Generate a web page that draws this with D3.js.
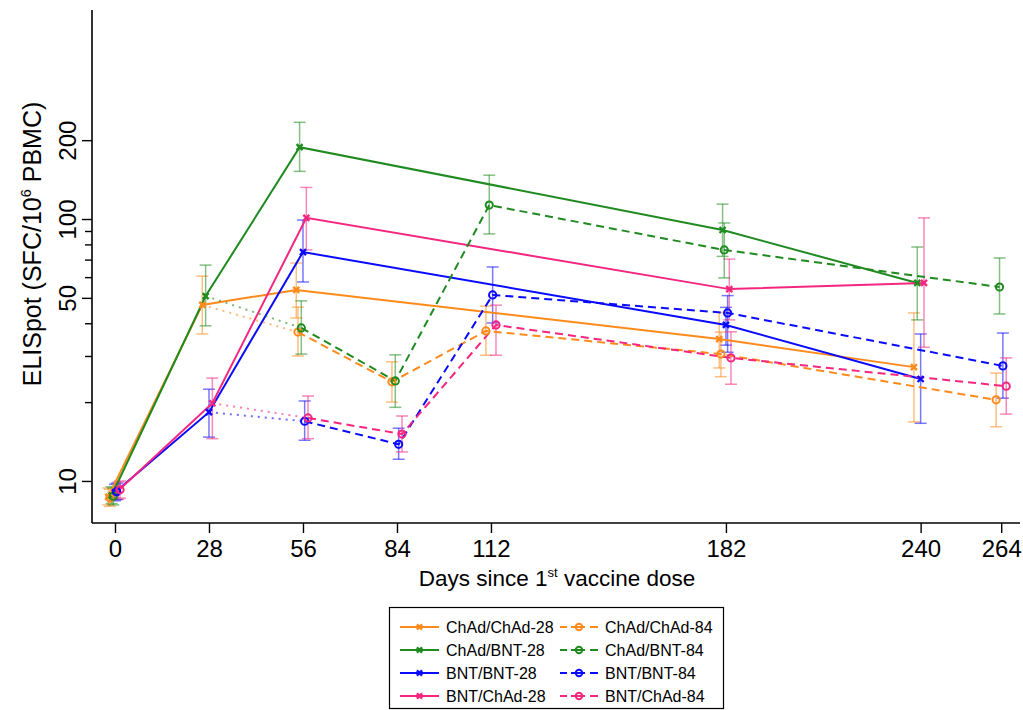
<!DOCTYPE html>
<html><head><meta charset="utf-8">
<script src="https://cdn.jsdelivr.net/npm/d3@7"></script>
<style>
body{margin:0;background:#fff}
svg{display:block}
text{font-family:"Liberation Sans",Arial,Helvetica,sans-serif;fill:#000}
</style>
</head><body>
<svg id="c" width="1023" height="710"></svg>
<script>
// ---------- data ----------
const xTickDays = [0, 28, 56, 84, 112, 182, 240, 264];
const yTickLabels = [10, 50, 100, 200];
const yMinorTicks = [20, 30, 40, 60, 70, 80, 90];
const groupNames = ["ChAd/ChAd-28", "ChAd/BNT-28", "BNT/BNT-28", "BNT/ChAd-28",
                    "ChAd/ChAd-84", "ChAd/BNT-84", "BNT/BNT-84", "BNT/ChAd-84"];
const days28 = [0, 28, 56, 182, 240];
const days84 = [0, 56, 84, 112, 182, 264];

const chadChad28   = [8.7, 47.0, 53.6, 34.8, 27.2];
const chadChad28Lo = [8.1, 36.4, 41.9, 27.0, 16.8];
const chadChad28Hi = [9.4, 60.5, 67.9, 44.0, 43.8];

const chadBnt28   = [8.8, 50.8, 188, 90.8, 57.0];
const chadBnt28Lo = [8.2, 39.1, 152, 72.0, 41.2];
const chadBnt28Hi = [9.5, 66.7, 234, 114, 78.2];

const bntBnt28   = [9.05, 18.3, 74.8, 39.4, 24.5];
const bntBnt28Lo = [8.4, 14.7, 57.5, 33.0, 16.6];
const bntBnt28Hi = [9.7, 22.4, 99.1, 46.0, 36.4];

const bntChad28   = [9.2, 19.8, 101, 54.0, 57.0];
const bntChad28Lo = [8.5, 14.5, 76.2, 41.2, 32.4];
const bntChad28Hi = [9.9, 24.7, 132, 70.3, 101];

const chadChad84   = [8.6, 37.0, 23.9, 37.4, 30.5, 20.4];
const chadChad84Lo = [8.0, 30.0, 20.0, 30.2, 25.0, 16.1];
const chadChad84Hi = [9.3, 46.1, 28.5, 46.5, 37.0, 25.8];

const chadBnt84   = [8.75, 38.4, 24.1, 113, 76.2, 55.0];
const chadBnt84Lo = [8.1, 30.5, 19.1, 87.7, 59.6, 43.4];
const chadBnt84Hi = [9.4, 48.7, 30.3, 147, 96.6, 71.0];

const bntBnt84   = [9.1, 16.9, 13.8, 51.3, 43.8, 27.5];
const bntBnt84Lo = [8.5, 14.3, 12.1, 40.1, 31.0, 20.7];
const bntBnt84Hi = [9.8, 20.2, 15.9, 65.6, 51.0, 36.7];

const bntChad84   = [9.25, 17.4, 15.1, 39.4, 29.5, 23.0];
const bntChad84Lo = [8.6, 14.5, 12.9, 30.2, 23.4, 18.0];
const bntChad84Hi = [10.0, 21.1, 17.7, 46.9, 37.1, 29.5];

// ---------- styles ----------
const colors = ["#ff8a1c", "#1f8a1f", "#0a0aff", "#f5267f"];
const dodgeDays = [-2, -1, 0, 1, -1.5, -0.5, 0.5, 1.5];

const seriesVals = [chadChad28, chadBnt28, bntBnt28, bntChad28, chadChad84, chadBnt84, bntBnt84, bntChad84];
const seriesLo = [chadChad28Lo, chadBnt28Lo, bntBnt28Lo, bntChad28Lo, chadChad84Lo, chadBnt84Lo, bntBnt84Lo, bntChad84Lo];
const seriesHi = [chadChad28Hi, chadBnt28Hi, bntBnt28Hi, bntChad28Hi, chadChad84Hi, chadBnt84Hi, bntBnt84Hi, bntChad84Hi];

const series = groupNames.map((name, i) => {
  const late = i >= 4;
  const ds = late ? days84 : days28;
  return {
    name, late, color: colors[i % 4], dodge: dodgeDays[i], parent: late ? i - 4 : null,
    pts: ds.map((d, k) => ({day: d, v: seriesVals[i][k], lo: seriesLo[i][k], hi: seriesHi[i][k]}))
  };
});

// ---------- scales ----------
const svg = d3.select("#c");
const x = d3.scaleLinear().domain([-6.85, 269.6]).range([92, 1020]);
const y = d3.scaleLog().domain([6.91, 628]).range([523, 10]);
const px = (s, p) => x(p.day + s.dodge);

// ---------- axes ----------
const font = '"Liberation Sans",Arial,Helvetica,sans-serif';
const xAxis = d3.axisBottom(x).tickValues(xTickDays).tickSize(10).tickPadding(7).tickSizeOuter(0);
const gx = svg.append("g").attr("transform", "translate(0,523)").call(xAxis);
gx.select(".domain").attr("d", "M92,0H1020").attr("stroke-width", 1.6);
gx.selectAll(".tick line").attr("stroke-width", 1.4);
gx.selectAll(".tick text").attr("font-size", 24).attr("font-family", font).attr("dy", "0.71em");

const yAxis = d3.axisLeft(y).tickValues(yTickLabels).tickFormat(d3.format("d")).tickSize(10).tickPadding(6).tickSizeOuter(0);
const gy = svg.append("g").attr("transform", "translate(92,0)").call(yAxis);
gy.select(".domain").attr("d", "M0,10V523").attr("stroke-width", 1.6);
gy.selectAll(".tick line").attr("stroke-width", 1.4);
gy.selectAll(".tick text")
  .attr("font-size", 24).attr("font-family", font)
  .attr("text-anchor", "middle").attr("dy", null)
  .attr("x", null)
  .attr("transform", "translate(-16,0) rotate(-90)");
const yMinor = d3.axisLeft(y).tickValues(yMinorTicks).tickFormat("").tickSize(7).tickSizeOuter(0);
const gym = svg.append("g").attr("transform", "translate(92,0)").call(yMinor);
gym.select(".domain").remove();
gym.selectAll(".tick line").attr("stroke-width", 1.4);

// axis titles
const xt = svg.append("text").attr("x", 557).attr("y", 586).attr("text-anchor", "middle").attr("font-size", 22.5);
xt.append("tspan").text("Days since 1");
xt.append("tspan").attr("font-size", 13).attr("dy", -9).text("st");
xt.append("tspan").attr("dy", 9).text(" vaccine dose");

const yt = svg.append("text").attr("transform", "translate(41,244) rotate(-90)").attr("text-anchor", "middle").attr("font-size", 25);
yt.append("tspan").text("ELISpot (SFC/10");
yt.append("tspan").attr("font-size", 14.5).attr("dy", -10).text("6");
yt.append("tspan").attr("dy", 10).text(" PBMC)");

// ---------- error bars ----------
const gErr = svg.append("g");
series.forEach(s => {
  s.pts.forEach(p => {
    const cx = px(s, p);
    const g = gErr.append("g").attr("stroke", s.color).attr("stroke-opacity", 0.55).attr("stroke-width", 1.5).attr("fill", "none");
    g.append("line").attr("x1", cx).attr("x2", cx).attr("y1", y(p.lo)).attr("y2", y(p.hi));
    g.append("line").attr("x1", cx - 6).attr("x2", cx + 6).attr("y1", y(p.lo)).attr("y2", y(p.lo));
    g.append("line").attr("x1", cx - 6).attr("x2", cx + 6).attr("y1", y(p.hi)).attr("y2", y(p.hi));
  });
});

// ---------- lines ----------
const line = d3.line().x(d => d[0]).y(d => d[1]);
const gLines = svg.append("g").attr("fill", "none");
series.forEach((s, i) => {
  if (!s.late) {
    gLines.append("path").attr("d", line(s.pts.map(p => [px(s, p), y(p.v)])))
      .attr("stroke", s.color).attr("stroke-width", 2);
  } else {
    const par = series[s.parent];
    const p28 = par.pts.find(p => p.day === 28);
    const own = s.pts.filter(p => p.day >= 56);
    gLines.append("path").attr("d", line([[px(par, p28), y(p28.v)], [px(s, own[0]), y(own[0].v)]]))
      .attr("stroke", s.color).attr("stroke-width", 2).attr("stroke-opacity", 0.6)
      .attr("stroke-dasharray", "2,5");
    gLines.append("path").attr("d", line(own.map(p => [px(s, p), y(p.v)])))
      .attr("stroke", s.color).attr("stroke-width", 2).attr("stroke-dasharray", "8,5");
  }
});

// ---------- markers ----------
function drawMarker(g, s, cx, cy, size) {
  if (!s.late) {
    g.append("path").attr("d", `M${cx - size},${cy - size}L${cx + size},${cy + size}M${cx - size},${cy + size}L${cx + size},${cy - size}`)
      .attr("stroke", s.color).attr("stroke-width", 2.4).attr("fill", "none");
  } else {
    g.append("circle").attr("cx", cx).attr("cy", cy).attr("r", size + 0.6)
      .attr("stroke", s.color).attr("stroke-width", 2).attr("fill", "none");
  }
}
const gMark = svg.append("g");
series.forEach(s => s.pts.forEach(p => drawMarker(gMark, s, px(s, p), y(p.v), 3)));

// ---------- legend ----------
const lg = svg.append("g");
lg.append("rect").attr("x", 389.5).attr("y", 607.5).attr("width", 334).attr("height", 101)
  .attr("fill", "#fff").attr("stroke", "#000").attr("stroke-width", 1.2);
const rowY = [627, 650, 673, 696];
series.forEach((s, i) => {
  const col = s.late ? 1 : 0;
  const row = i % 4;
  const x0 = col ? 560 : 400, x1 = col ? 598 : 439;
  const yy = rowY[row];
  const ln = lg.append("line").attr("x1", x0).attr("x2", x1).attr("y1", yy).attr("y2", yy)
    .attr("stroke", s.color).attr("stroke-width", 2);
  if (s.late) ln.attr("stroke-dasharray", "7,4,14,5,8");
  drawMarker(lg, s, (x0 + x1) / 2, yy, 2.6);
  lg.append("text").attr("x", col ? 605 : 446).attr("y", yy + 6).attr("font-size", 16).text(s.name);
});
</script>
</body></html>
